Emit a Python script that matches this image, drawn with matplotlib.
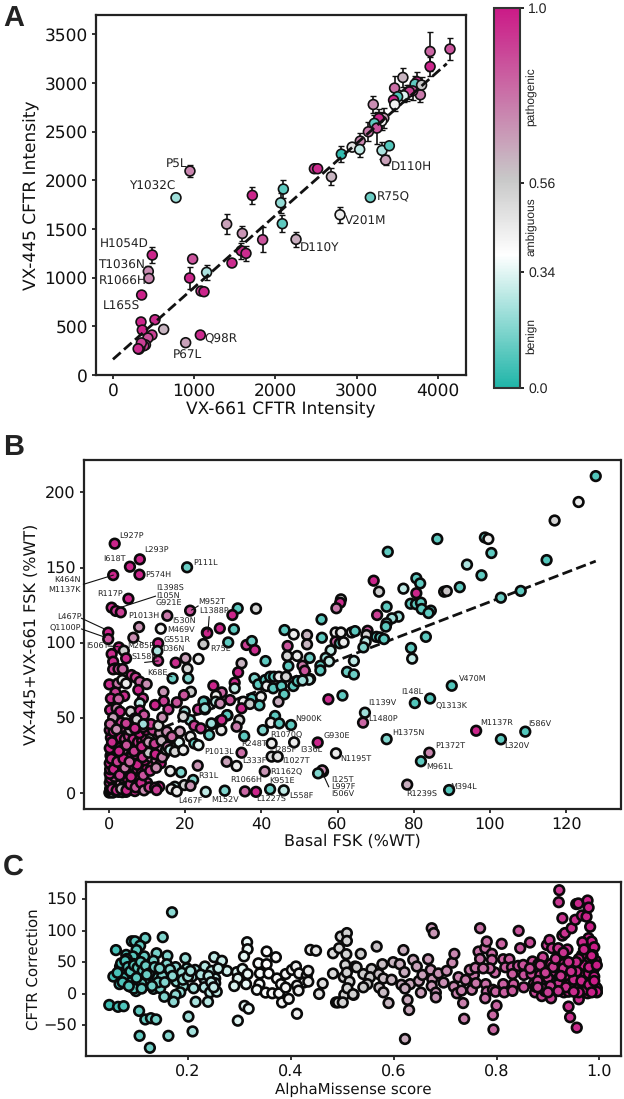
import matplotlib

matplotlib.use('Agg')

import matplotlib.pyplot as plt
from matplotlib.cm import ScalarMappable
from matplotlib.colors import LinearSegmentedColormap, Normalize

WIDTH, HEIGHT = 624, 1099

# AlphaMissense colour scale, teal (benign) -> white -> grey -> magenta (pathogenic)
CMAP = LinearSegmentedColormap.from_list(
    'am', [(0.0, '#20b5a8'), (0.35, '#ffffff'), (0.55, '#c8c8c8'), (1.0, '#cb1a87')])
NORM = Normalize(0, 1)

# panel A: VX-661 vs VX-445 intensity
a_vx661 = [4150, 3905, 3905, 3570, 3468, 3785, 3745, 3720, 3800, 3690, 3620, 3650, 3580, 3505, 3455,
           3470, 3205, 3335, 3310, 3275, 3218, 3250, 3145, 3045, 2945, 3038, 3313, 3403, 3358, 2812,
           2690, 2480, 2520, 948, 776, 1716, 2098, 2065, 2085, 2254, 2796, 3169, 1400, 1593, 1843,
           1580, 1638, 1465, 981, 1153, 944, 484, 435, 443, 353, 1084, 1121, 517, 624, 345,
           361, 480, 1076, 895, 430, 400, 380, 330, 320, 350, 310]
a_vx445 = [3350, 3325, 3170, 3058, 2949, 2880, 3014, 2990, 2980, 2920, 2900, 2910, 2870, 2860, 2825,
           2780, 2780, 2640, 2610, 2637, 2586, 2538, 2500, 2404, 2342, 2318, 2308, 2356, 2209, 2270,
           2038, 2120, 2120, 2096, 1822, 1846, 1911, 1770, 1555, 1394, 1647, 1825, 1551, 1455, 1390,
           1277, 1250, 1151, 1192, 1055, 997, 1233, 1065, 993, 822, 863, 856, 568, 469, 545,
           462, 411, 411, 332, 380, 310, 300, 280, 265, 330, 270]
a_err = [110, 200, 100, 100, 120, 70, 100, 80, 80, 90, 80, 70, 60, 70, 90,
         70, 90, 100, 90, 100, 90, 160, 100, 80, 30, 80, 90, 0, 50, 80,
         90, 0, 0, 60, 0, 90, 90, 100, 90, 80, 80, 0, 100, 75, 130,
         80, 80, 0, 0, 80, 110, 80, 60, 0, 0, 0, 0, 0, 0, 0,
         0, 0, 0, 0, 0, 0, 0, 0, 0, 0, 0]
a_score = [0.85, 0.8, 0.97, 0.6, 0.78, 0.75, 0.97, 0.1, 0.55, 0.85, 0.95, 0.9, 0.3, 0.08, 0.97,
           0.4, 0.7, 0.65, 0.4, 0.97, 0.1, 0.85, 0.75, 0.72, 0.45, 0.25, 0.22, 0.08, 0.65, 0.03,
           0.6, 0.9, 0.95, 0.72, 0.2, 0.97, 0.1, 0.18, 0.1, 0.62, 0.42, 0.12, 0.65, 0.68, 0.85,
           0.95, 0.95, 0.95, 0.85, 0.22, 0.97, 0.97, 0.7, 0.72, 0.98, 0.9, 0.97, 0.95, 0.6, 0.97,
           0.97, 0.9, 0.95, 0.65, 0.85, 0.75, 0.9, 0.97, 0.97, 0.9, 0.95]
a_fit_x = [0, 4110]
a_fit_y = [161, 3200]
a_labels = ['P5L', 'Y1032C', 'D110H', 'R75Q', 'V201M', 'D110Y', 'H1054D', 'T1036N', 'R1066H',
            'L165S', 'Q98R', 'P67L']
a_label_x = [649, 201, 3420, 3251, 2857, 2303, -160, -181, -172, -119, 1129, 735]
a_label_y = [2175, 1935, 2130, 1825, 1582, 1305, 1339, 1123, 959, 702, 366, 205]

b_x_dense = [.1, .5, 1, 1.5, 2.5, 3.5, 4.5, .3, .6, .2, 1.2, 2.3, 3, 4, 5.2, 6, 6.8, .4, 1.5, .2, 2.5, 3.8, 5, 6.2,
             7.3, 8, .3, 1, 2, 3.2, 4.4, 5.5, 6.5, 7.8, 9, 10, .2, 1.6, 2.8, 4, 5.2, 6.4, 7.4, 8.6, 10, 11, .4,
             1.2, 2.4, 3.4, 4.6, 5.8, 7, 8.2, 9.4, 11, 12.4, 13.6, .2, 1.4, 2.6, 3.8, 5, 6.2, 7.2, 8.4, 9.4, 10.4,
             12, 13.5, 14.5, .5, 1.8, 3, 4.2, 5.2, 6.4, 7.6, 8.7, 9.6, 11, 12.8, 14.5, 15.6, .2, 3.4, 5.5, 8, 9.8,
             11.5, 13.4]
b_y_dense = [.5, 1, .5, 2, 1, .8, 1, 3, 5, 7, 8, 4, 7, 5, 3, 2.5, 1.5, 10, 11, 13, 13, 10, 9, 8,
             6, 4, 16, 18, 16, 15, 14, 14, 12, 11, 9, 7, 20, 22, 19, 20, 18, 18, 16, 14, 17, 20, 25,
             27, 25, 24, 26, 24, 22, 21, 22, 24, 22, 20, 30, 33, 30, 29, 32, 30, 29, 27, 29, 31,
             29, 29, 26, 37, 39, 37, 36, 38, 36, 34, 35, 37, 38, 39, 36, 33, 42, 44, 42, 40, 42,
             42, 40]
b_s_dense = [.95, .5, .45, .95, .42, .5, .42, .9, .95, .9, .95, .9, .7, .95, .9, .9, .95, .97, .85, .95, .9, .8, .95, .97,
             .9, .85, .9, .97, .7, .9, .95, .85, .97, .95, .8, .9, .95, .95, .97, .85, .95, .42, .9, .95, .97, .9, .9,
             .97, .8, .95, .97, .9, .85, .95, .97, .7, .75, .97, .97, .9, .95, .75, .97, .45, .95, .9, .55, .5,
             .6, .7, .9, .95, .7, .97, .85, .9, .95, .9, .97, .9, .55, .9, .6, .97, .9, .9, .6, .97, .95,
             .9, .65]

b_x_fill = [.8, 2, 3.2, 4.6, 5.6, 7, 8.4, 9.2, 10.6, 1.2, 2.8, 4.2, 5.8, 7.4, 9, 10.8, 12.4, .6, 2.2, 3.8, 5.4, 7, 8.8, 10.4,
            12.2, 14, 15, .8, 2.6, 4.6, 6.6, 8.6, 10.4, 12, 13.8, 15.4, 17, 1.2, 3.2, 5, 7, 9, 11, 13, 15.2, 17.2, 18.4]
b_y_fill = [3, 2, 3, 2, 6, 4, 7, 2, 4, 16, 12, 17, 11, 19, 12, 15, 17, 23, 21, 23, 21, 26, 24, 27,
            26, 24, 29, 34, 28, 32, 28, 31, 34, 33, 35, 31, 30, 41, 47, 46, 43, 44, 46, 45, 41, 38, 34]
b_s_fill = [.9, .95, .6, .97, .9, .85, .95, .7, .9, .97, .9, .75, .95, .97, .85, .9, .7, .95, .9, .97, .8, .95, .9, .55,
            .97, .7, .4, .95, .97, .85, .9, .95, .65, .9, .6, .75, .45, .97, .9, .85, .95, .8, .9, .5, .7, .4, .3]

b_x_low = [42.7, 48.6, 30.9, 33.5, 34.8, 42.7, 44.3, 40.9, 25.4, 30.4, 35.7, 38.6, 42.3, 45.9, 22.1, 23.3, 18.9, 16.1,
           17.3, 19.8, 21.4, 16.4, 17.8, 13.2, 12.1, 12.5, 29.5, 27.1, 29.1, 31.1, 21.5, 19.7, 17.8, 14.3, 14.4, 12.1,
           15.6, 19.9, 23.4, 25.1, 25.2, 21.3, 19.5, 14, 18.6, 22.4, 24.1, 21.4, 22.4, 23.5, 16, 17.3, 19.5, 16.5]
b_y_low = [33.2, 33.9, 21, 18.2, 27, 24.4, 24.4, 14.6, 1, 1.8, 1.3, 1, 2.7, 2, 8.9, 18.4, 14, 14.8,
           4.4, 5.5, 5, 2.9, 1.3, 4.4, 3.8, 2.2, 42, 46, 48, 51.8, 67.5, 65.3, 60.5, 67.5, 61.3, 58.7,
           55.8, 54.3, 55.8, 60.9, 55.8, 48.7, 51, 50.5, 41, 45, 43.2, 37.7, 33.2, 32, 28.8, 27.7, 28.8, 37.7]
b_s_low = [.42, .42, .65, .42, .78, .48, .45, .68, .25, .15, .8, .97, .12, .25, .15, .68, .15, .42,
           .25, .5, .68, .42, .42, .95, .9, .9, .42, .25, .9, .1, .55, .85, .85, .68, .9, .97,
           .9, .2, .9, .1, .1, .18, .5, .7, .65, .9, .9, .42, .1, .3, .25, .5, .42, .8]

b_x_mid = [33.8, 32.4, 38.6, 29.1, 32.8, 25.7, 24.8, 31.3, 36.1, 37.5, 38.3, 46.1, 48.5, 46.9, 46.8, 49.4, 41.1, 34.8,
           47.1, 33.9, 38.2, 39.2, 41, 41.4, 42.3, 43.3, 44.6, 46.5, 43.1, 45.3, 46, 44.5, 48.4, 49.5, 51.3, 52.8,
           33, 27.4, 29.6, 33, 28.1, 28, 31.8, 35.3, 37.5, 39.9, 34.8, 37, 39.5, 24.8, 25.2, 29.2, 31, 29.6, 26.9,
           34.2, 33.5, 26.3, 35.5, 40.4, 43.6, 42.5, 44.7, 47.8]
b_y_mid = [122.9, 118.5, 122.7, 109.6, 109, 106.8, 99.2, 100.3, 98.6, 101.2, 95.2, 108.5, 105.6, 97.9, 91.3, 91.3, 87.9, 86.4,
           84.6, 80.4, 76.4, 72.4, 75.3, 71.3, 77.5, 77.5, 77.5, 77.5, 69.8, 71.3, 65.8, 60.9, 71.3, 74.6, 76, 76,
           73.5, 71.5, 67.1, 69.8, 64.9, 60.9, 62, 60.9, 63, 64.2, 56.5, 59.4, 58.5, 60.9, 56.5, 59.8, 52, 48.7, 46.5,
           48.7, 44.3, 38.8, 38, 42, 51.4, 47, 46.5, 45.4]
b_s_mid = [.1, .97, .5, .97, .1, .97, .55, .1, .9, .12, .95, .1, .42, .85, .5, .42, .1, .6,
           .1, .97, .15, .1, .1, .42, .1, .1, .42, .5, .1, .1, .1, .62, .1, .1, .1, .1,
           .95, .97, .8, .25, .42, .25, .85, .42, .1, .42, .97, .55, .1, .1, .2, .7, .1, .95, .2,
           .5, .75, .12, .1, .15, .1, .42, .1, .1]

b_x_upper = [1.5, 8.1, 5.5, 20.5, 1.1, 8, 5.1, .7, 1.8, 3.1, 15.3, 21.3, 7.9, 13.6, 25.8, -.2, -.2, 6.4, 12.9, 12.7, 2.6,
             .7, 3.9, 4.5, 12.9, 17.5, 20.1, 23.5, 20.6, 16.7, 20.8, 1.1, 1.6, 1.1, 2.5, 3.6, 5.9, 7, 8.1, 9.9, .1,
             2.3, 3.5, 4.5, 7.7, 8.9, 8.1, 4, 1.7, .5, 2.5, .3, 2, 2.9, 5.7, 8.1, 9.2, 6.8, 4.5, 1.1, .3, 2, 7.3, 9, 6.8]
b_y_upper = [165.9, 155.5, 150.6, 150.2, 145, 145.3, 129.3, 123.4, 121.2, 120.3, 118, 121.4, 110.5, 109.4, 106.5, 106.8, 102.5, 103.4, 99.7, 94.6, 97,
             92.6, 94.8, 89.7, 88.1, 86.8, 89.7, 89.3, 82.8, 76.4, 76.4, 87.5, 83, 82.4, 82.6, 82.6, 78.6, 77, 74.2, 72.6, 72.4,
             73, 75.3, 73, 68.7, 63.1, 59.8, 64.7, 67, 63, 62.7, 55.4, 56.5, 54.3, 54.3, 55, 52, 49.8, 46.5, 50.3, 46, 42.5, 49, 46, 43.2]
b_s_upper = [.97, .97, .97, .12, .97, .97, .97, .95, .9, .9, .75, .85, .68, .4, .97, .97, .85, .7, .97, .22, .97,
             .95, .52, .95, .9, .95, .65, .42, .5, .12, .15, .95, .95, .9, .85, .8, .9, .9, .8, .7, .95,
             .75, .42, .42, .97, .9, .25, .95, .9, .95, .8, .95, .7, .97, .5, .95, .85, .9, .9, .65, .8, .7, .5, .2, .95]

b_x_right = [127.8, 123.3, 117, 114.9, 98.7, 99.6, 86.2, 73.2, 100.4, 94, 97.8, 92.1, 108.1, 102.9, 88, 88.7, 80.7, 81.7, 77.3, 70.9, 69.5, 80.7,
             72.9, 79.2, 80.6, 81.9, 82.1, 84.5, 83.9, 70.4, 76, 74.3, 72.9, 72.7, 83.2, 70.2, 71.2, 72.2, 79.3, 79.6, 60.9, 60.7, 59.7, 55.8,
             52, 52, 55.9, 59.5, 60.9, 63.7, 64.6, 67.9, 67.6, 67.4, 66.8, 59.5, 60.6, 61.6, 58.2, 56.9, 52.7, 64.3, 62.5, 64.3, 57.8, 55.5, 55.5, 50.8, 51.4, 52.5, 50.8,
             57.6, 61.3, 90, 80.3, 84.3, 67.2, 66.7, 72.9, 96.4, 109.3, 102.9, 84.1, 81.9, 54.8, 59.6, 56.2, 56, 54.9, 78.3, 89.3]
b_y_right = [210.8, 193.6, 181.3, 155, 170, 169, 169, 160.5, 159.7, 152, 144.9, 137, 134.5, 130, 134, 134.4, 142.9, 139.5, 136, 134, 141.3, 133,
             124, 126, 125.7, 126.7, 122.5, 121.4, 119.8, 118.5, 117.4, 116.3, 113, 110.8, 104, 104, 103.6, 102.5, 96.6, 89.5, 128.9, 126.7, 123, 115.6,
             105.2, 99, 103.4, 106.9, 106.9, 106.9, 107.8, 108, 105.2, 100.8, 97, 100.8, 99.7, 100.4, 95, 90, 90, 88, 80.7, 79, 87.7, 84.8, 81.7, 84.8, 81.5, 75.5, 75,
             62.5, 65, 71.5, 60, 63, 53.6, 47, 36, 41.6, 41, 35.9, 27, 21.3, 33.8, 26.6, 14.5, 15.3, 13.3, 5.8, 2.2]
b_s_right = [.08, .42, .5, .08, .12, .42, .1, .1, .1, .22, .1, .1, .1, .12, .5, .56, .1, .1, .25, .52, .97, .97,
             .1, .1, .1, .1, .1, .12, .1, .9, .2, .2, .15, .1, .1, .1, .1, .1, .1, .25, .45, .95, .75, .1,
             .6, .6, .1, .42, .42, .35, .1, .85, .5, .25, .15, .8, .12, .42, .25, .2, .12, .25, .12, .12, .25, .1, .1, .75, .85, .25, .2,
             .95, .1, .08, .08, .08, .2, .8, .15, .97, .08, .1, .72, .1, .97, .42, .45, .7, .15, .62, .08]
b_fit_x = [0, 127.8]
b_fit_y = [30, 154.3]

b_labels = ['L927P', 'L293P', 'I618T', 'P111L', 'P574H', 'K464N', 'M1137K', 'I1398S', 'R117P', 'I105N', 'G921E', 'M952T',
            'L1388P', 'P1013H', 'L467P', 'I530N', 'Q1100P', 'M469V', 'G551R', 'M265P', 'I506T', 'R75L', 'D36N', 'S158R',
            'K68E', 'N900K', 'R1070Q', 'R248T', 'I285F', 'I336L', 'P1013L', 'L333F', 'I1027T', 'R1162Q', 'R31L', 'R1066H',
            'K951E', 'L558F', 'L467F', 'M152V', 'L1227S', 'V470M', 'I148L', 'Q1313K', 'I1139V', 'L1480P', 'M1137R', 'I586V',
            'H1375N', 'G930E', 'L320V', 'P1372T', 'N1195T', 'M961L', 'I125T', 'L997F', 'I506V', 'R1239S', 'M394L']
b_label_x = [2.7, 9.3, -1.5, 22, 9.6, -14.3, -15.9, 12.5, -3, 12.5, 12.2, 23.4,
             23.6, 5, -13.6, 16.6, -15.6, 15.3, 14.4, 4.8, -5.9, 26.5, 14, 5.9,
             10.1, 49, 42.4, 34.6, 43.3, 50.1, 24.9, 35, 45.5, 42.4, 23.5, 31.8,
             42.1, 47.3, 18.3, 26.9, 38.7, 91.8, 76.8, 85.7, 68, 68, 97.4, 110.1,
             74.4, 56.3, 103.8, 85.6, 60.8, 83.4, 58.4, 58.4, 58.4, 78.1, 89.5]
b_label_y = [170.5, 161, 155, 153.3, 145, 141, 134.7, 136.2, 132.7, 131, 125.8, 127,
             120.7, 117.2, 116.5, 113.8, 109.9, 108, 101.4, 97.2, 97.2, 96.3, 95.2, 90,
             79.3, 49.2, 39.2, 32.3, 28.6, 28.6, 27, 21.3, 21.3, 14.4, 11.3, 8.4,
             7.5, -2, -5.5, -5, -4.2, 75.3, 66.9, 58.2, 59.4, 48.7, 46.5, 45.4,
             39.6, 37.9, 30.8, 31, 22.6, 17.3, 8.2, 3.5, -1.1, -1.1, 3.5]

# leader lines from label to point: (x0, x1), (y0, y1)
b_leader_x = [(-6.7, 1.1), (-7.2, -1), (-7.2, -1), (12.2, 2.4), (-.2, 2.4), (7.3, 9), (23.4, 21.7), (26.3, 26), (9.4, 12.9), (15.2, 16.5), (56.1, 57.7)]
b_leader_y = [(138.9, 145), (116.3, 109), (109.2, 103.7), (131, 123), (97.9, 97.5), (101.9, 99.7), (124.5, 121.8), (117.4, 107.4), (87, 88), (78.5, 77.5), (13.3, 4.4)]

# panel C: AlphaMissense score vs correction
c_score_left = [.169, .06, .151, .117, .091, .097, .107, .1, .08, .093, .115, .139, .16, .195, .081, .133, .073, .094, .159, .068,
                .176, .198, .122, .078, .1, .13, .146, .16, .188, .214, .233, .251, .266, .246, .276, .259, .055, .084, .107, .133,
                .149, .178, .208, .232, .253, .067, .088, .123, .099, .133, .146, .191, .211, .232, .253, .185, .176, .154, .243, .256,
                .172, .215, .239, .047, .064, .075, .105, .117, .128, .138, .201, .106, .162, .209, .126,
                .07, .085, .09, .105, .115, .12, .13, .075, .09, .1, .095, .11, .14, .15, .165, .17, .19, .2, .205, .225, .24, .245, .25,
                .07, .078, .083, .088, .095, .102, .108, .112, .118, .125, .135, .142, .155, .063, .073, .085, .1, .11, .12, .13, .145]
c_corr_left = [129, 69, 89.5, 88, 83, 83, 76, 69, 61.4, 59, 59, 64, 60, 56, 55, 52, 45.5, 47, 46.6, 43,
               42, 40, 39, 37.6, 34, 35, 33, 33, 33, 37.6, 43, 57.7, 52, 36, 36, 40, 27, 25, 24, 22,
               21, 19, 27, 23, 24, 15, 11, 14, 4, 7.5, 8.5, 12, 8.5, 10, 16.5, 2, -2, -5, 2, 3,
               -13, -13, -13, -18, -21, -20, -27.5, -41, -39, -41, -36.5, -67, -67, -60, -86,
               38, 30, 40, 30, 28, 18, 28, 25, 18, 12, 8, 16, 25, 28, 38, 28, 22, 27, 36, 30, 28, 18, 10,
               48, 52, 42, 35, 45, 41, 50, 36, 44, 32, 42, 18, 18, 33, 18, 12, 25, 8, 30, 12, 40]

c_score_mid = [.295, .306, .297, .29, .313, .316, .34, .337, .353, .357, .353, .371, .315, .316, .309, .373, .339, .334, .351, .364,
               .377, .381, .39, .39, .402, .41, .416, .431, .434, .425, .434, .412, .415, .383, .396, .31, .318, .297, .412, .462,
               .455, .438, .449, .482, .494, .508, .497, .509, .509, .506, .482, .503, .509, .514, .504, .488, .492, .501, .51, .525,
               .522, .521, .536, .567, .528, .541, .557, .554, .571, .578, .599, .612, .619, .638, .645, .667, .621, .58, .596, .549,
               .541, .572, .58, .59, .627, .63, .622, .615, .632, .622, .649, .653, .656, .672, .675, .674, .682, .682, .674, .678]
c_corr_mid = [34, 39, 24, 12, 15, 31, 32, 48, 46.6, 32, 66.7, 57.7, 81.5, 70.4, 59, 24, 15, 6, 1.6, .5,
              .5, 15, 9.5, 31, 37.6, 43, 32, 28.6, 36, 17.5, 19, 12.7, 4.8, -14, -8.4, -19.5, -24, -43, -32, 16,
              -.5, 69.3, 68, 64, 72, 62.5, 90.5, 96, 83.6, 45.5, 31.8, 26, 33.4, 19, -2, -14, -14, -14, 8.5, 43,
              -2, -1, 63, 74.6, 41.8, 31, 39, 26, 31, 46.6, 49.8, 46.6, 69, 53.5, 43, 54.5, 34, 24, 22, 15,
              10, 9.5, 2, -15, -10, -26, -72, 14, 15, 8, 20, 1.6, 29.6, 37.6, 22.8, 12, 1.6, -6, 103.7, 96]

c_score_right = [.687, .697, .703, .714, .718, .726, .74, .717, .723, .732, .752, .735, .737, .756, .748, .759, .765, .768, .778, .781,
                 .768, .791, .791, .797, .787, .774, .76, .779, .781, .778, .793, .8, .793, .794, .81, .813, .825, .817, .83, .831,
                 .842, .852, .843, .846, .865, .813, .798, .815, .833, .831, .853, .853, .868, .872, .875, .87, .881, .89, .898, .903,
                 .908, .92, .922, .921, .928, .928, .933, .946, .953, .966, .975, .982, .955, .959, .977, .979, .92, .938, .906, .93,
                 .953, .972, .993, .979, .985, .967, .99, .966, .987, .893, .885, .907, .925, .94, .95, .969, .989, .964, .986, .894,
                 .911, .922, .933, .95, .959, .888, .906, .931, .96, .94, .943, .956, .977, .995, .992, .985, .969, .943, .894, .876,
                 .904, .865, .969, .937, .917, .979, .956, .995,
                 .88, .89, .9, .91, .92, .93, .94, .95, .96, .97, .98, .99, .885, .895, .905, .915, .925, .935, .945, .955, .965, .975, .985, .995,
                 .88, .9, .92, .94, .96, .98, .93, .95, .97, .99, .985, .995]
c_corr_right = [32, 17.5, 36, 49, 63, 26, 21.7, 11, .5, 4.8, 6, -15, -40, 29.6, 37.6, 41, 66.7, 55, 72, 82.6,
                103.7, 63, 53.5, 33.4, 40, 40, 16.5, 15, 3, -7.4, 6, -19, -34, -57, 79, 54.5, 54.5, 41.8, 41.8, 31,
                44, 45.5, 99.5, 72, 81, 15, 3, 2, 15, 4.3, 29.6, 10, 31, 15, 2, 51, 46.6, 57.7, 77, 85,
                72, 63, 164, 145, 119.6, 92, 96, 103.7, 117, 124, 122, 106, 142, 143, 147.6, 136.5, 72, 70, 47, 47,
                45.5, 52, 52, 88, 82.6, 81.5, 73.6, 61, 61, 35, 29.6, 34, 32, 40, 28.6, 30, 38.6, 19, 24, 17.5,
                7.5, 21.7, 6, 7.5, 7.5, -4, -7.4, 2, -9, -20.6, -37.5, -54, .5, 2, 11, 16.5, 11, 16.5, 4, 11,
                21.7, 40, 45.5, 29.6, 8.5, 32, 35, 8.5,
                20, 8, 25, 42, 15, 40, 3, 22, 55, 14, 42, 27, 45, 33, 12, 55, 28, 10, 35, 50, 20, 6, 60, 3,
                10, 2, 4, 50, 2, 14, 65, 3, 70, 20, 2, 45]


def pixel_axes(fig, left, top, right, bottom):
    return fig.add_axes([left / WIDTH, 1 - bottom / HEIGHT, (right - left) / WIDTH, (bottom - top) / HEIGHT])


def style_axes(ax, size):
    for spine in ax.spines.values():
        spine.set_linewidth(1.6)
        spine.set_color('#222222')
    ax.tick_params(labelsize=size, length=3, width=1.2, pad=3, color='#111111', labelcolor='#111111')


plt.rcParams['text.hinting'] = 'none'
plt.rcParams['text.hinting_factor'] = 1

fig = plt.figure(figsize=(WIDTH / 100, HEIGHT / 100), dpi=100)

# A
ax_a = pixel_axes(fig, 96, 15, 466, 375)
ax_a.errorbar(a_vx661, a_vx445, yerr=a_err, fmt='none', ecolor='#111111', elinewidth=1.2, capsize=2.2,
              capthick=1.0, zorder=2)
ax_a.scatter(a_vx661, a_vx445, c=a_score, cmap=CMAP, norm=NORM, s=50, edgecolors='#111111', linewidths=1.2, zorder=3)
ax_a.plot(a_fit_x, a_fit_y, color='#111111', linestyle='--', linewidth=2, zorder=4)
for name, x, y in zip(a_labels, a_label_x, a_label_y):
    ax_a.text(x, y, name, fontsize=8.4, color='#222222', va='center', ha='left', zorder=5)
ax_a.set_xlim(-209, 4347)
ax_a.set_ylim(0, 3700)
ax_a.set_xticks([0, 1000, 2000, 3000, 4000])
ax_a.set_yticks([0, 500, 1000, 1500, 2000, 2500, 3000, 3500])
ax_a.set_xlabel('VX-661 CFTR Intensity', fontsize=12, labelpad=1, color='#111111')
ax_a.set_ylabel('VX-445 CFTR Intensity', fontsize=12, labelpad=3, color='#111111')
style_axes(ax_a, 12)

# colour bar
cax = pixel_axes(fig, 494, 8, 520, 388)
cbar = fig.colorbar(ScalarMappable(norm=NORM, cmap=CMAP), cax=cax)
cbar.set_ticks([0, 0.305, 0.54, 1], labels=['0.0', '0.34', '0.56', '1.0'])
cbar.ax.tick_params(labelsize=10.2, length=3, width=1.2, pad=3, labelfontfamily='Liberation Sans', labelcolor='#222222')
cbar.outline.set_linewidth(1.5)
cbar.outline.set_edgecolor('#333333')
for name, y in (('pathogenic', 97), ('ambiguous', 227), ('benign', 336)):
    fig.text(532 / WIDTH, 1 - y / HEIGHT, name, rotation=90, fontsize=8.6, family='Liberation Sans',
             color='#222222', ha='center', va='center')

# B
ax_b = pixel_axes(fig, 84, 460, 620.5, 809)
ax_b.plot(b_fit_x, b_fit_y, color='#111111', linestyle='--', linewidth=2, zorder=1)
b_x = b_x_dense + b_x_fill + b_x_low + b_x_mid + b_x_upper + b_x_right
b_y = b_y_dense + b_y_fill + b_y_low + b_y_mid + b_y_upper + b_y_right
b_s = b_s_dense + b_s_fill + b_s_low + b_s_mid + b_s_upper + b_s_right
ax_b.scatter(b_x, b_y, c=b_s, cmap=CMAP, norm=NORM, s=48, edgecolors='#0a0a0a', linewidths=1.9, zorder=2)
for xs, ys in zip(b_leader_x, b_leader_y):
    ax_b.plot(xs, ys, color='#111111', linewidth=0.8, zorder=3, clip_on=False)
for name, x, y in zip(b_labels, b_label_x, b_label_y):
    ax_b.text(x, y, name, fontsize=5.9, color='#222222', va='center', ha='left', zorder=5)
ax_b.set_xlim(-6.56, 134.3)
ax_b.set_ylim(-10.4, 221.5)
ax_b.set_xticks([0, 20, 40, 60, 80, 100, 120])
ax_b.set_yticks([0, 50, 100, 150, 200])
ax_b.set_xlabel('Basal FSK (%WT)', fontsize=11.4, labelpad=1, color='#111111')
ax_b.set_ylabel('VX-445+VX-661 FSK (%WT)', fontsize=11.4, labelpad=4, color='#111111')
style_axes(ax_b, 11.2)

# C
ax_c = pixel_axes(fig, 85.5, 882, 621, 1056)
c_score = c_score_left + c_score_mid + c_score_right
c_corr = c_corr_left + c_corr_mid + c_corr_right
ax_c.scatter(c_score, c_corr, c=c_score, cmap=CMAP, norm=NORM, s=48, edgecolors='#0a0a0a', linewidths=1.9)
ax_c.set_xlim(0.0008, 1.042)
ax_c.set_ylim(-99, 177)
ax_c.set_xticks([0.2, 0.4, 0.6, 0.8, 1.0])
ax_c.set_yticks([-50, 0, 50, 100, 150])
ax_c.set_xlabel('AlphaMissense score', fontsize=10.7, labelpad=2, color='#111111')
ax_c.set_ylabel('CFTR Correction', fontsize=10.7, labelpad=2, color='#111111')
style_axes(ax_c, 11.2)

for letter, x, y in (('A', 3, 18), ('B', 3, 447), ('C', 3, 867)):
    fig.text(x / WIDTH, 1 - y / HEIGHT, letter, fontsize=21, fontweight='bold', family='Liberation Sans',
             color='#222222', ha='left', va='center')

fig.savefig('out.png', dpi=100, facecolor='white')
plt.close(fig)
